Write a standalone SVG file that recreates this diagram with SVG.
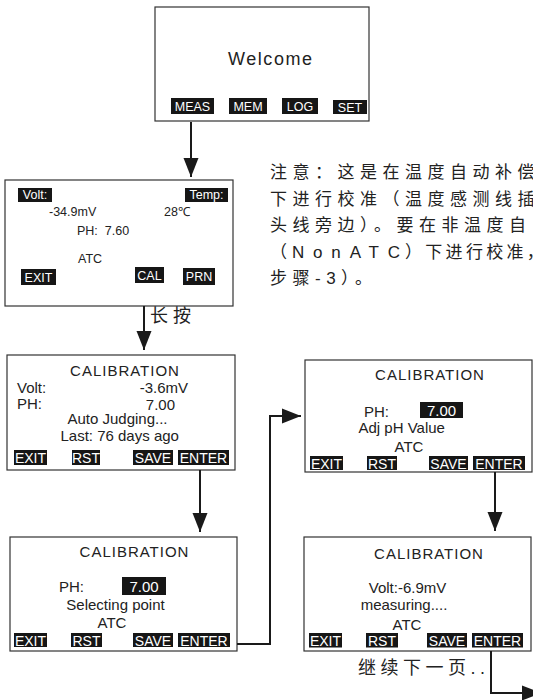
<svg xmlns="http://www.w3.org/2000/svg" width="533" height="700" viewBox="0 0 533 700">
<style>
.box{fill:#fff;stroke:#333;stroke-width:1.2}
.btn{fill:#161616}
.bt{fill:#fff;font-family:"Liberation Sans",Arial,sans-serif;font-size:14px;text-anchor:middle}
.bs{font-size:12.5px}
.t{fill:#222;font-family:"Liberation Sans",Arial,sans-serif;font-size:15px}
.ts{font-size:12.5px}
.m{text-anchor:middle}
.e{text-anchor:end}
.cjk{fill:#222;font-family:"Liberation Sans","Noto Sans CJK SC",sans-serif;font-size:17px;letter-spacing:5.5px}
.ln{fill:none;stroke:#1a1a1a;stroke-width:2}
</style>
<defs>
<marker id="ah" markerUnits="userSpaceOnUse" markerWidth="20" markerHeight="16" viewBox="0 0 20 16" refX="19" refY="8" orient="auto">
<path d="M0,0.5 L19,8 L0,15.5 z" fill="#1a1a1a"/>
</marker>
</defs>

<g id="welcome">
<rect class="box" x="155" y="7" width="214" height="114"/>
<text class="t m" x="270" y="65" textLength="84" style="font-size:18px">Welcome</text>
<rect class="btn" x="171" y="98" width="43" height="16"/><text class="bt bs" x="192.5" y="110.5">MEAS</text>
<rect class="btn" x="229" y="98" width="38" height="16"/><text class="bt bs" x="248" y="110.5">MEM</text>
<rect class="btn" x="282" y="98" width="36" height="16"/><text class="bt bs" x="300" y="110.5">LOG</text>
<rect class="btn" x="333" y="100" width="34" height="14"/><text class="bt bs" x="350" y="111.5">SET</text>
</g>

<g id="measure">
<rect class="box" x="5" y="180" width="228" height="126"/>
<rect class="btn" x="18" y="188" width="34" height="14"/><text class="bt bs" x="35" y="199">Volt:</text>
<rect class="btn" x="185" y="188" width="43" height="14"/><text class="bt bs" x="206.5" y="199">Temp:</text>
<text class="t ts" x="49" y="216">-34.9mV</text>
<text class="t ts" x="164" y="216">28℃</text>
<text class="t ts" x="77" y="235" xml:space="preserve">PH:  7.60</text>
<text class="t ts" x="78" y="263">ATC</text>
<rect class="btn" x="21" y="269" width="35" height="16"/><text class="bt bs" x="38.5" y="281.5">EXIT</text>
<rect class="btn" x="135" y="267" width="29" height="16"/><text class="bt bs" x="149.5" y="279.5">CAL</text>
<rect class="btn" x="183" y="268" width="32" height="17"/><text class="bt bs" x="199" y="281">PRN</text>
</g>

<g id="note">
<text class="cjk" x="270" y="178">注意：这是在温度自动补偿</text>
<text class="cjk" x="270" y="204.5">下进行校准（温度感测线插</text>
<text class="cjk" x="270" y="231">头线旁边）。要在非温度自</text>
<text class="cjk" y="257.5"><tspan x="270">（</tspan><tspan x="292" textLength="108" style="letter-spacing:0">NonATC</tspan><tspan x="405" style="letter-spacing:3.3px">）下进行校准，</tspan></text>
<text class="cjk" x="270" y="284">步骤-3）。</text>
</g>

<g id="cal1">
<rect class="box" x="7" y="355" width="228" height="115"/>
<text class="t m" x="125" y="376" letter-spacing="1">CALIBRATION</text>
<text class="t" x="17" y="393">Volt:</text>
<text class="t e" x="188" y="393">-3.6mV</text>
<text class="t" x="17" y="409">PH:</text>
<text class="t e" x="175" y="410">7.00</text>
<text class="t m" x="117.5" y="424">Auto Judging...</text>
<text class="t m" x="119.7" y="441">Last: 76 days ago</text>
<rect class="btn" x="14" y="450" width="33" height="15"/><text class="bt" x="30.5" y="463">EXIT</text>
<rect class="btn" x="72" y="450" width="28" height="15"/><text class="bt" x="86" y="463">RST</text>
<rect class="btn" x="133" y="450" width="40" height="15"/><text class="bt" x="153" y="463">SAVE</text>
<rect class="btn" x="178" y="450" width="51" height="15"/><text class="bt" x="203.5" y="463">ENTER</text>
</g>

<g id="cal2">
<rect class="box" x="10" y="537" width="227" height="114"/>
<text class="t m" x="134.5" y="557" letter-spacing="1">CALIBRATION</text>
<text class="t" x="59" y="592">PH:</text>
<rect class="btn" x="122" y="577" width="44" height="18"/><text class="bt" style="font-size:15px" x="144" y="592">7.00</text>
<text class="t m" x="115.5" y="610">Selecting point</text>
<text class="t m" x="112" y="628">ATC</text>
<rect class="btn" x="14" y="633" width="33" height="14"/><text class="bt" x="30.5" y="645.5">EXIT</text>
<rect class="btn" x="71" y="633" width="31" height="14"/><text class="bt" x="86.5" y="645.5">RST</text>
<rect class="btn" x="133" y="633" width="40" height="14"/><text class="bt" x="153" y="645.5">SAVE</text>
<rect class="btn" x="178" y="633" width="52" height="14"/><text class="bt" x="204" y="645.5">ENTER</text>
</g>

<g id="cal3">
<rect class="box" x="305" y="360" width="227" height="112"/>
<text class="t m" x="430" y="380" letter-spacing="1">CALIBRATION</text>
<text class="t" x="364" y="417">PH:</text>
<rect class="btn" x="420" y="402" width="43" height="16"/><text class="bt" style="font-size:15px" x="441.5" y="416">7.00</text>
<text class="t m" x="401.7" y="433">Adj pH Value</text>
<text class="t m" x="409" y="452">ATC</text>
<rect class="btn" x="310" y="456" width="33" height="14"/><text class="bt" x="326.5" y="468.5">EXIT</text>
<rect class="btn" x="367" y="456" width="30" height="14"/><text class="bt" x="382" y="468.5">RST</text>
<rect class="btn" x="429" y="456" width="39" height="14"/><text class="bt" x="448.5" y="468.5">SAVE</text>
<rect class="btn" x="473" y="456" width="52" height="14"/><text class="bt" x="499" y="468.5">ENTER</text>
</g>

<g id="cal4">
<rect class="box" x="304" y="537" width="227" height="114"/>
<text class="t m" x="429" y="559" letter-spacing="1">CALIBRATION</text>
<text class="t m" x="407.5" y="593">Volt:-6.9mV</text>
<text class="t m" x="404" y="610">measuring....</text>
<text class="t m" x="407" y="630">ATC</text>
<rect class="btn" x="309" y="633" width="33" height="14.5"/><text class="bt" x="325.5" y="645.5">EXIT</text>
<rect class="btn" x="366" y="633" width="32" height="14.5"/><text class="bt" x="382" y="645.5">RST</text>
<rect class="btn" x="427" y="633" width="40" height="14.5"/><text class="bt" x="447" y="645.5">SAVE</text>
<rect class="btn" x="472" y="633" width="51" height="14.5"/><text class="bt" x="497.5" y="645.5">ENTER</text>
</g>

<g id="connectors">
<path class="ln" d="M191,122 V177" marker-end="url(#ah)"/>
<path class="ln" d="M144,306 V350" marker-end="url(#ah)"/>
<path class="ln" d="M200,470 V532" marker-end="url(#ah)"/>
<path class="ln" d="M237,644 H270 V416 H301" marker-end="url(#ah)"/>
<path class="ln" d="M495,472 V531" marker-end="url(#ah)"/>
<path class="ln" d="M491,651 V693 H541" marker-end="url(#ah)"/>
<text class="cjk" x="150" y="322" style="font-size:18px;letter-spacing:5px">长按</text>
<text class="cjk" x="358" y="674" style="font-size:18px;letter-spacing:4.5px">继续下一页..</text>
</g>
</svg>
